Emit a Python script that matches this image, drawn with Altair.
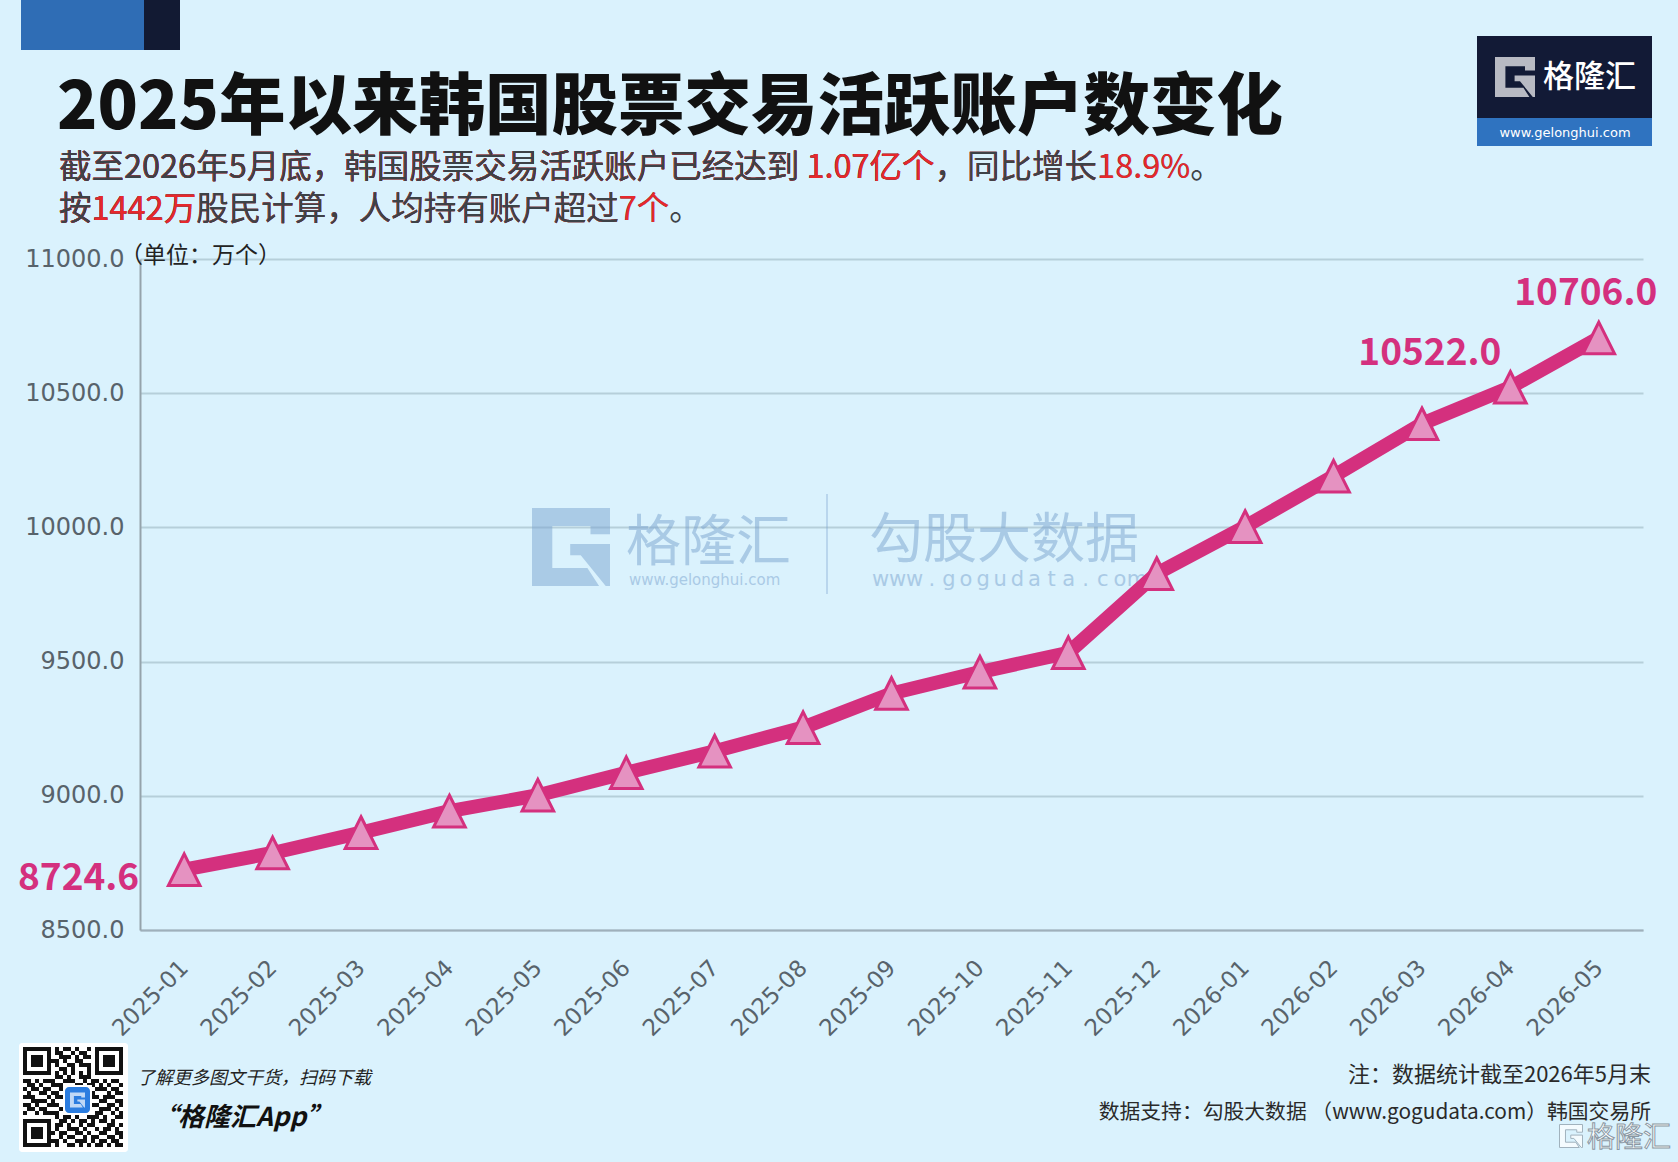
import altair as alt
import pandas as pd

# ---- data -------------------------------------------------------------
months = [
    "2025-01", "2025-02", "2025-03", "2025-04", "2025-05", "2025-06",
    "2025-07", "2025-08", "2025-09", "2025-10", "2025-11", "2025-12",
    "2026-01", "2026-02", "2026-03", "2026-04", "2026-05",
]
accounts = [
    8724.6, 8787.0, 8863.0, 8943.0, 9002.0, 9086.0,
    9166.0, 9254.0, 9381.0, 9461.0, 9533.0, 9828.0,
    10003.0, 10191.0, 10386.0, 10522.0, 10706.0,
]
y_ticks = [8500, 9000, 9500, 10000, 10500, 11000]
labelled = {"2025-01": "left", "2026-04": "mid", "2026-05": "right"}

title_text = "2025年以来韩国股票交易活跃账户数变化"
sub_line1 = "截至2026年5月底，韩国股票交易活跃账户已经达到 1.07亿个，同比增长18.9%。"
sub_red1 = ["1.07亿个", "18.9%"]
sub_line2 = "按1442万股民计算，人均持有账户超过7个。"
sub_red2 = ["1442万", "7个"]
unit_text = "（单位：万个）"
note_text = "注：数据统计截至2026年5月末"
source_text = "数据支持：勾股大数据 （www.gogudata.com）韩国交易所"
promo_text = "了解更多图文干货，扫码下载"
app_text = "“格隆汇App”"

# QR code modules (1 = dark)
qr_rows = [
    "1111111010110100101111111",
    "1000001011001011001000001",
    "1011101001110101101011101",
    "1011101110100110001011101",
    "1011101010011011101011101",
    "1000001001101000101000001",
    "1111111010101010101111111",
    "0000000011010011100000000",
    "1101011100111001011010110",
    "0110100111000110110101001",
    "1011011001101011001110110",
    "0100110110010110110001011",
    "1110001011101001011011100",
    "0011110100110110100110011",
    "1101001110011001011001101",
    "0110110001101110100111010",
    "1001011110010101101100101",
    "0000000010110100111010011",
    "1111111001101011010110100",
    "1000001011010010110001101",
    "1011101010011101001011010",
    "1011101101100110100110011",
    "1011101001011001011001101",
    "1000001110100111010110110",
    "1111111010011010101101011",
]

# ---- layout / style ---------------------------------------------------
W, H = 1678, 1162
OX, OY = 140, 259           # plot-area origin on the page
PW, PH = 1503, 671          # plot-area size

BG = "#daf2fd"
PINK = "#d4307e"
PINK_LIGHT = "#e592c1"
GRAY_TXT = "#3d4247"
RED = "#e6282c"
AXIS_TXT = "#58636b"
CJK = "Noto Sans CJK SC"

TRIANGLE = "M0,-1L1,1L-1,1Z"
G_LOGO = ("M-1,-1L1,-1L1,-0.33L0.5,-0.33L0.5,-0.54L-0.48,-0.54L-0.48,0.54"
          "L0.42,0.54L0.72,1L-1,1Z"
          "M-0.02,-0.08L1,-0.08L1,1L0.89,1L0.25,0.21L-0.02,0.21Z")

ONE = alt.Data(values=[{"k": 0}])


def px(x):
    return x - OX


def py(y):
    return y - OY


def text(t, x, y, **kw):
    return alt.Chart(alt.Data(values=[{"t": t}])).mark_text(**kw).encode(
        text="t:N", x=alt.value(px(x)), y=alt.value(py(y)))


def rect(x1, y1, x2, y2, **kw):
    return alt.Chart(ONE).mark_rect(**kw).encode(
        x=alt.value(px(x1)), x2=alt.value(px(x2)),
        y=alt.value(py(y1)), y2=alt.value(py(y2)))


def logo(cx, cy, width, **kw):
    return alt.Chart(ONE).mark_point(shape=G_LOGO, size=width * width, **kw).encode(
        x=alt.value(px(cx)), y=alt.value(py(cy)))


def rich(line, reds, x, y, size):
    """Grey line with red highlighted segments, stacked as prefix overlays."""
    opts = dict(font=CJK, fontSize=size, align="left", baseline="alphabetic")
    parts = [text(line, x, y, color=GRAY_TXT, **opts)]
    for seg in reversed(reds):
        i = line.index(seg)
        j = i + len(seg)
        parts.append(text(line[:j], x, y, color=RED, **opts))
        if i > 0:
            parts.append(text(line[:i], x, y, color=GRAY_TXT, **opts))
    return parts


# ---- main series ------------------------------------------------------
df = pd.DataFrame({"month": months, "value": accounts})
df["pos"] = df["month"].map(labelled).fillna("")
df["label"] = df["value"].map(lambda v: f"{v:.1f}")

x_enc = alt.X(
    "month:N", sort=months,
    scale=alt.Scale(type="point", padding=0.5),
    axis=alt.Axis(
        title=None, grid=False, ticks=False, tickSize=0,
        domain=True, domainColor="#9fb0bb", domainWidth=2,
        labelAngle=315, labelAlign="right", labelBaseline="middle",
        labelPadding=34, labelFont="DejaVu Sans", labelFontSize=23,
        labelColor=AXIS_TXT,
    ),
)
y_enc = alt.Y(
    "value:Q",
    scale=alt.Scale(domain=[8500, 11000], nice=False, zero=False),
    axis=alt.Axis(
        title=None, values=y_ticks, format=".1f",
        grid=True, gridColor="#b6cfda", gridWidth=2,
        ticks=False, tickSize=0,
        domain=True, domainColor="#95a3ab", domainWidth=2,
        labelPadding=16, labelFont="DejaVu Sans", labelFontSize=24,
        labelColor=AXIS_TXT,
    ),
)

base = alt.Chart(df).encode(x=x_enc, y=y_enc)
line = base.mark_line(color=PINK, strokeWidth=14, strokeJoin="round")
points = base.mark_point(
    shape=TRIANGLE, size=1000, filled=True, fill=PINK_LIGHT,
    stroke=PINK, strokeWidth=3, opacity=1,
)
lab_opts = dict(font=CJK, fontSize=37, fontWeight="bold",
                color=PINK, baseline="alphabetic")
lab_left = base.transform_filter(alt.datum.pos == "left").mark_text(
    align="right", dx=-45, dy=20, **lab_opts).encode(text="label:N")
lab_mid = base.transform_filter(alt.datum.pos == "mid").mark_text(
    align="right", dx=-9, dy=-22, **lab_opts).encode(text="label:N")
lab_right = base.transform_filter(alt.datum.pos == "right").mark_text(
    align="center", dx=-13, dy=-33, **lab_opts).encode(text="label:N")

main = alt.layer(line, points, lab_left, lab_mid, lab_right)

# ---- watermark --------------------------------------------------------
WM = "#7aa3cf"
wm_chars = pd.DataFrame({"c": list("www.gogudata.com")})
wm_chars["x"] = [px(872 + 8.5 + i * 17.1) for i in range(len(wm_chars))]
wm_chars["y"] = py(586)
wm_url = alt.Chart(wm_chars).mark_text(
    font="DejaVu Sans", fontSize=21, color=WM, opacity=0.5,
    align="center", baseline="alphabetic",
).encode(x=alt.X("x:Q", scale=None, axis=None),
         y=alt.Y("y:Q", scale=None, axis=None), text="c:N")

watermark = [
    logo(571, 547, 78, filled=True, color=WM, opacity=0.5, strokeWidth=0),
    text("格隆汇", 626, 560, font=CJK, fontSize=55, color=WM, opacity=0.5,
         align="left", baseline="alphabetic"),
    text("www.gelonghui.com", 629, 585, font="DejaVu Sans", fontSize=15,
         color=WM, opacity=0.5, align="left", baseline="alphabetic"),
    rect(826, 494, 828, 594, color=WM, opacity=0.35),
    text("勾股大数据", 869, 558, font=CJK, fontSize=54, color=WM, opacity=0.5,
         align="left", baseline="alphabetic"),
    wm_url,
]

# ---- header -----------------------------------------------------------
header = [
    rect(21, 0, 144, 50, color="#2f6db5"),
    rect(144, 0, 180, 50, color="#121a33"),
    text(title_text, 57, 129, font=CJK, fontSize=66.5, fontWeight=900,
         color="#111111", align="left", baseline="alphabetic"),
    *rich(sub_line1, sub_red1, 59, 178, 32.5),
    *rich(sub_line2, sub_red2, 59, 220, 32.5),
    # brand box
    rect(1477, 36, 1652, 118, color="#121a36"),
    rect(1477, 118, 1652, 146, color="#2f73c0"),
    logo(1515, 77, 40, filled=True, color="white", strokeWidth=0),
    text("格隆汇", 1543, 87, font=CJK, fontSize=31, fontWeight=500,
         color="white", align="left", baseline="alphabetic"),
    text("www.gelonghui.com", 1565, 137, font="DejaVu Sans", fontSize=13,
         color="white", align="center", baseline="alphabetic"),
    text(unit_text, 120, 263, font=CJK, fontSize=23, color="#222222",
         align="left", baseline="alphabetic"),
]

# ---- footer -----------------------------------------------------------
qr = pd.DataFrame(
    [(c, r) for r, row in enumerate(qr_rows) for c, v in enumerate(row) if v == "1"],
    columns=["c", "r"],
)
qr["x1"] = px(23) + qr["c"] * 4
qr["x2"] = qr["x1"] + 4
qr["y1"] = py(1047) + qr["r"] * 4
qr["y2"] = qr["y1"] + 4
qr_modules = alt.Chart(qr).mark_rect(color="#111111").encode(
    x=alt.X("x1:Q", scale=None, axis=None), x2="x2:Q",
    y=alt.Y("y1:Q", scale=None, axis=None), y2="y2:Q")

footer = [
    rect(19, 1043, 128, 1152, color="white", cornerRadius=3),
    qr_modules,
    rect(63, 1085, 92, 1115, color="white"),
    rect(65, 1087, 90, 1113, color="#2b7de0", cornerRadius=4),
    logo(77.5, 1100, 15, filled=True, color="white", strokeWidth=0),
    text(promo_text, 137, 1084, font=CJK, fontSize=18, fontStyle="italic",
         color="#222222", align="left", baseline="alphabetic"),
    text(app_text, 152, 1126, font=CJK, fontSize=26, fontStyle="italic",
         fontWeight="bold", color="#111111", align="left", baseline="alphabetic"),
    text(note_text, 1651, 1082, font=CJK, fontSize=22, color="#2a2a2a",
         align="right", baseline="alphabetic"),
    text(source_text, 1651, 1119, font=CJK, fontSize=20.8, color="#2a2a2a",
         align="right", baseline="alphabetic"),
    logo(1571, 1136, 23, filled=True, fill="white", stroke="#8a98a3",
         strokeWidth=1),
    text("格隆汇", 1587, 1147, font=CJK, fontSize=28, color="white",
         stroke="#8a98a3", strokeWidth=1, align="left", baseline="alphabetic"),
]

chart = alt.layer(*watermark, main, *header, *footer).resolve_scale(
    x="independent", y="independent"
).properties(
    width=PW, height=PH,
    background=BG,
    autosize=alt.AutoSizeParams(type="none"),
    padding={"left": OX, "top": OY, "right": W - OX - PW, "bottom": H - OY - PH},
).configure_view(stroke=None)

chart.save("out.html", embed_options={"renderer": "svg", "actions": False})
